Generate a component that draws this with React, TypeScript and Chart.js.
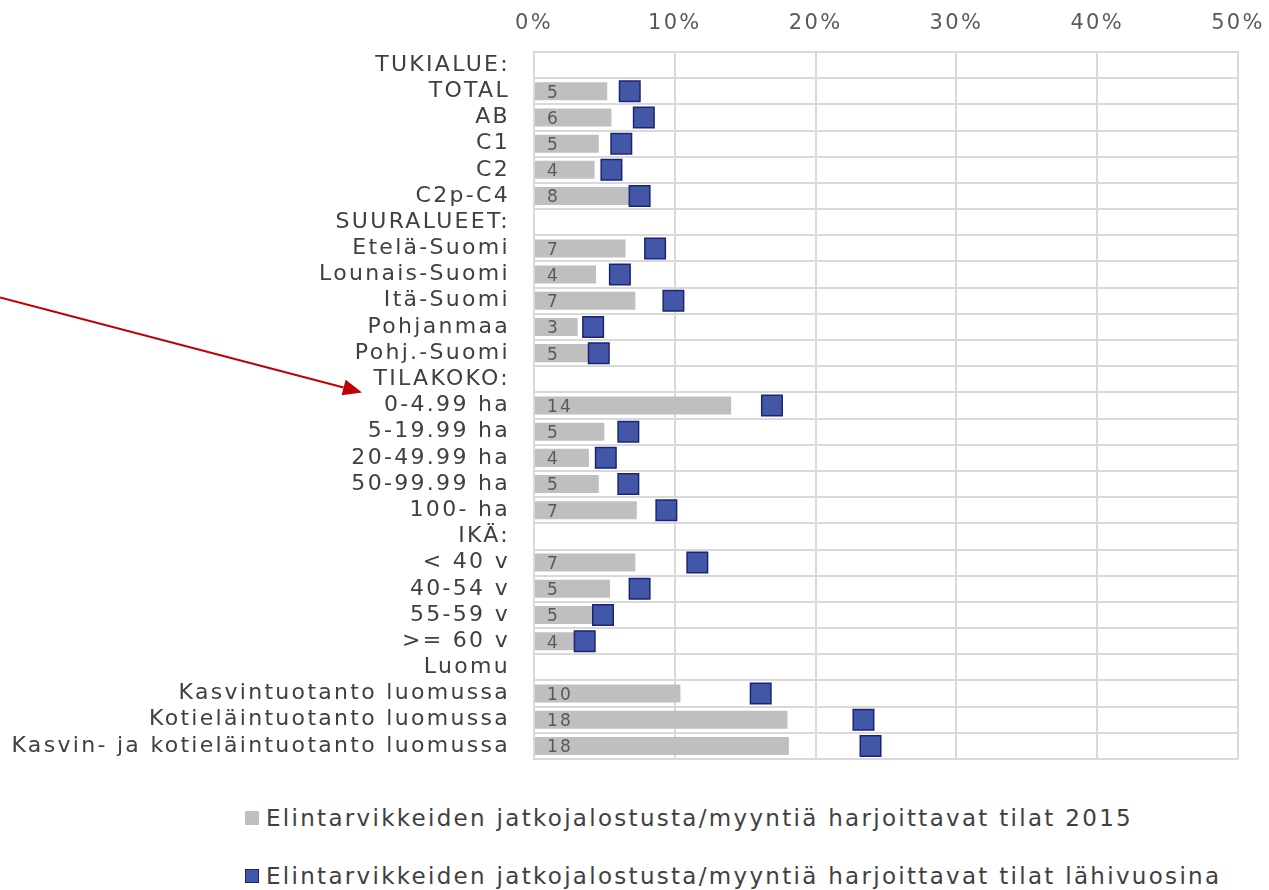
import React, { useEffect, useRef } from 'react';
import { Chart, registerables } from 'chart.js';

Chart.register(...registerables);

const FONT = '"DejaVu Sans", Verdana, sans-serif';

const categories = [
  'TUKIALUE:', 'TOTAL', 'AB', 'C1', 'C2', 'C2p-C4',
  'SUURALUEET:', 'Etelä-Suomi', 'Lounais-Suomi', 'Itä-Suomi', 'Pohjanmaa', 'Pohj.-Suomi',
  'TILAKOKO:', '0-4.99 ha', '5-19.99 ha', '20-49.99 ha', '50-99.99 ha', '100- ha',
  'IKÄ:', '< 40 v', '40-54 v', '55-59 v', '>= 60 v',
  'Luomu', 'Kasvintuotanto luomussa', 'Kotieläintuotanto luomussa', 'Kasvin- ja kotieläintuotanto luomussa',
];

const farms2015 = [
  null, 5.2, 5.5, 4.6, 4.3, 7.6,
  null, 6.5, 4.4, 7.2, 3.1, 4.6,
  null, 14.0, 5.0, 3.9, 4.6, 7.3,
  null, 7.2, 5.4, 4.6, 3.6,
  null, 10.4, 18.0, 18.1,
];

const farmsComingYears = [
  null, 6.8, 7.8, 6.2, 5.5, 7.5,
  null, 8.6, 6.1, 9.9, 4.2, 4.6,
  null, 16.9, 6.7, 5.1, 6.7, 9.4,
  null, 11.6, 7.5, 4.9, 3.6,
  null, 16.1, 23.4, 23.9,
];

const xTicks = [0, 10, 20, 30, 40, 50];

const seriesNames = [
  'Elintarvikkeiden jatkojalostusta/myyntiä harjoittavat tilat 2015',
  'Elintarvikkeiden jatkojalostusta/myyntiä harjoittavat tilat lähivuosina',
];

const BAR_COLOR = '#bfbfbf';
const MARK_FILL = '#4357a8';
const MARK_EDGE = '#1c2470';
const GRID = '#d9d9d9';
const SPACING = '2.3px';

const spacingPlugin = {
  id: 'spacing',
  beforeDraw(chart: any) {
    (chart.ctx as any).letterSpacing = SPACING;
  },
};

const barLabelPlugin = {
  id: 'barLabels',
  afterDatasetDraw(chart: any, args: any) {
    if (args.index !== 0) return;
    const { ctx, chartArea } = chart;
    const meta = chart.getDatasetMeta(0);
    ctx.save();
    (ctx as any).letterSpacing = SPACING;
    ctx.font = `17px ${FONT}`;
    ctx.fillStyle = '#595959';
    ctx.textAlign = 'left';
    ctx.textBaseline = 'middle';
    meta.data.forEach((el: any, i: number) => {
      const v = farms2015[i];
      if (v === null || v === undefined) return;
      ctx.fillText(String(Math.round(v)), chartArea.left + 13, el.y + 2);
    });
    ctx.restore();
  },
};

const arrowPlugin = {
  id: 'arrow',
  afterDraw(chart: any) {
    const { ctx, chartArea, scales } = chart;
    const y = scales.y;
    const tipY = (y.getPixelForValue(12) + y.getPixelForValue(13)) / 2;
    const tipX = chartArea.left - 172;
    const sx = 0;
    const sy = tipY - 95;
    const ang = Math.atan2(tipY - sy, tipX - sx);
    const len = 19;
    const half = 8;
    const bx = tipX - len * Math.cos(ang);
    const by = tipY - len * Math.sin(ang);
    ctx.save();
    ctx.strokeStyle = '#c00000';
    ctx.fillStyle = '#c00000';
    ctx.lineWidth = 2;
    ctx.beginPath();
    ctx.moveTo(sx, sy);
    ctx.lineTo(bx, by);
    ctx.stroke();
    ctx.beginPath();
    ctx.moveTo(tipX, tipY);
    ctx.lineTo(bx + half * Math.sin(ang), by - half * Math.cos(ang));
    ctx.lineTo(bx - half * Math.sin(ang), by + half * Math.cos(ang));
    ctx.closePath();
    ctx.fill();
    ctx.restore();
  },
};

export default function App() {
  const canvasRef = useRef<HTMLCanvasElement | null>(null);

  useEffect(() => {
    if (!canvasRef.current) return;
    const chart = new Chart(canvasRef.current, {
      type: 'bar',
      data: {
        labels: categories,
        datasets: [
          {
            type: 'bar',
            label: seriesNames[0],
            data: farms2015,
            backgroundColor: BAR_COLOR,
            borderWidth: 0,
            categoryPercentage: 0.8,
            barPercentage: 0.86,
            order: 1,
          } as any,
          {
            type: 'line',
            label: seriesNames[1],
            data: farmsComingYears,
            indexAxis: 'y',
            showLine: false,
            pointStyle: 'rect',
            pointRadius: 14.5,
            pointHoverRadius: 14.5,
            pointBackgroundColor: MARK_FILL,
            pointBorderColor: MARK_EDGE,
            pointBorderWidth: 1.5,
            backgroundColor: MARK_FILL,
            borderColor: MARK_EDGE,
            order: 0,
          } as any,
        ],
      },
      options: {
        indexAxis: 'y',
        animation: false,
        responsive: true,
        maintainAspectRatio: false,
        events: [],
        layout: { padding: { top: 10, right: 31, bottom: 7, left: 0 } },
        plugins: {
          legend: { display: false },
          tooltip: { enabled: false },
        },
        scales: {
          x: {
            position: 'top',
            min: 0,
            max: 50,
            afterBuildTicks: (s: any) => {
              s.ticks = xTicks.map((v) => ({ value: v }));
            },
            afterFit: (s: any) => {
              s.height = 42;
              s.paddingLeft = 0;
              s.paddingRight = 0;
            },
            ticks: {
              callback: (v: any) => `${v}%`,
              color: '#595959',
              font: { family: FONT, size: 21 },
              padding: 16,
            },
            grid: { color: GRID, lineWidth: 2, drawTicks: false },
            border: { color: GRID, width: 2 },
          },
          y: {
            ticks: {
              autoSkip: false,
              color: '#404040',
              font: { family: FONT, size: 22 },
              padding: 24,
            },
            grid: { color: GRID, lineWidth: 2, drawTicks: false, offset: true },
            border: { color: GRID, width: 2 },
            afterFit: (s: any) => {
              s.width = 534;
              s.paddingTop = 0;
              s.paddingBottom = 0;
            },
          },
        },
      } as any,
      plugins: [spacingPlugin, barLabelPlugin, arrowPlugin],
    });
    return () => chart.destroy();
  }, []);

  const legendRow = (top: number, fill: string, edge: string, text: string) => (
    <div
      style={{
        position: 'absolute',
        left: 245,
        top,
        height: 30,
        display: 'flex',
        alignItems: 'center',
        whiteSpace: 'nowrap',
      }}
    >
      <span
        style={{
          display: 'inline-block',
          width: 14,
          height: 14,
          boxSizing: 'border-box',
          background: fill,
          border: `1.5px solid ${edge}`,
          marginRight: 7,
        }}
      />
      <span style={{ fontFamily: FONT, fontSize: 23, color: '#404040', letterSpacing: SPACING }}>
        {text}
      </span>
    </div>
  );

  return (
    <div
      style={{
        position: 'fixed',
        left: 0,
        top: 0,
        width: 1269,
        height: 890,
        background: '#ffffff',
        overflow: 'hidden',
      }}
    >
      <div style={{ position: 'absolute', left: 0, top: 0, width: 1269, height: 775 }}>
        <canvas ref={canvasRef} />
      </div>
      {legendRow(803, BAR_COLOR, BAR_COLOR, seriesNames[0])}
      {legendRow(861, MARK_FILL, MARK_EDGE, seriesNames[1])}
    </div>
  );
}
